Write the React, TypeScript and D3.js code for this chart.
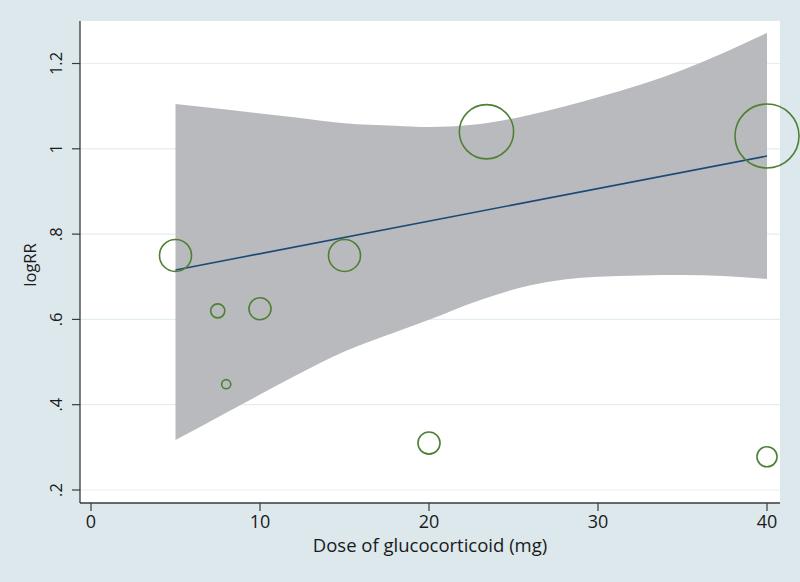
import React from "react";
import * as d3 from "d3";

// Study points: dose (mg), logRR, study weight
const doses = [5, 7.5, 8, 10, 15, 20, 23.4, 40, 40];
const logRR = [0.75, 0.62, 0.448, 0.625, 0.75, 0.31, 1.04, 1.03, 0.278];
const weights = [16, 3.1, 1.3, 7.6, 16, 7.6, 46, 64, 6.3];

// Fitted meta-regression line
const fitX = [5, 40];
const fitY = [0.716, 0.983];

// 95% confidence band
const ciX = [5, 8, 12, 15, 18, 20, 23, 26, 30, 35, 40];
const ciUpper = [1.105, 1.092, 1.074, 1.06, 1.054, 1.051, 1.058, 1.08, 1.121, 1.185, 1.272];
const ciLower = [0.317, 0.381, 0.466, 0.525, 0.57, 0.599, 0.645, 0.68, 0.7, 0.704, 0.695];

// Axis ticks
const xTicks = [0, 10, 20, 30, 40];
const yTicks = [0.2, 0.4, 0.6, 0.8, 1, 1.2];
const yTickLabels = [".2", ".4", ".6", ".8", "1", "1.2"];

const W = 800;
const H = 582;
const L = 80, R = 780, T = 21, B = 503;

export default function App() {
  const x = d3.scaleLinear().domain([-0.651, 40.769]).range([L, R]);
  const y = d3.scaleLinear().domain([0.1695, 1.2997]).range([B, T]);
  const r = d3.scaleSqrt().domain([0, 64]).range([0, 32]);

  const band = d3
    .area<number>()
    .x((_, i) => x(ciX[i]))
    .y0((_, i) => y(ciLower[i]))
    .y1((_, i) => y(ciUpper[i]))
    .curve(d3.curveMonotoneX)(ciX) as string;

  const line = d3
    .line<number>()
    .x((_, i) => x(fitX[i]))
    .y((_, i) => y(fitY[i]))(fitX) as string;

  const font = "'Open Sans', 'DejaVu Sans', sans-serif";

  return (
    <svg
      width={W}
      height={H}
      style={{ position: "absolute", left: 0, top: 0, display: "block" }}
    >
      <rect x={0} y={0} width={W} height={H} fill="#dde8ec" />
      <rect x={L} y={T} width={R - L} height={B - T} fill="#ffffff" />
      {yTicks.map((t) => (
        <line key={"g" + t} x1={L} x2={R} y1={y(t)} y2={y(t)} stroke="#e3edf2" strokeWidth={1.2} />
      ))}
      <path d={band} fill="#b9babd" />
      <path d={line} fill="none" stroke="#1c4a78" strokeWidth={1.6} />
      {doses.map((d, i) => (
        <circle
          key={"c" + i}
          cx={x(d)}
          cy={y(logRR[i])}
          r={r(weights[i])}
          fill="none"
          stroke="#4e8034"
          strokeWidth={1.6}
        />
      ))}
      <line x1={L} x2={L} y1={T} y2={B} stroke="#3a3a3a" strokeWidth={1.3} />
      <line x1={L} x2={R} y1={B} y2={B} stroke="#3a3a3a" strokeWidth={1.3} />
      {yTicks.map((t, i) => (
        <g key={"y" + t}>
          <line x1={L - 8} x2={L} y1={y(t)} y2={y(t)} stroke="#3a3a3a" strokeWidth={1.2} />
          <text
            transform={`translate(${L - 18},${y(t)}) rotate(-90)`}
            textAnchor="middle"
            fontFamily={font}
            fontSize={16.5}
            fill="#1a1a1a"
          >
            {yTickLabels[i]}
          </text>
        </g>
      ))}
      {xTicks.map((t) => (
        <g key={"x" + t}>
          <line x1={x(t)} x2={x(t)} y1={B} y2={B + 8} stroke="#3a3a3a" strokeWidth={1.2} />
          <text x={x(t)} y={528} textAnchor="middle" fontFamily={font} fontSize={18} fill="#1a1a1a">
            {t}
          </text>
        </g>
      ))}
      <text
        transform={`translate(36,265) rotate(-90)`}
        textAnchor="middle"
        fontFamily={font}
        fontSize={16.5}
        fill="#1a1a1a"
      >
        logRR
      </text>
      <text x={(L + R) / 2} y={552} textAnchor="middle" fontFamily={font} fontSize={18.5} fill="#1a1a1a">
        Dose of glucocorticoid (mg)
      </text>
    </svg>
  );
}
